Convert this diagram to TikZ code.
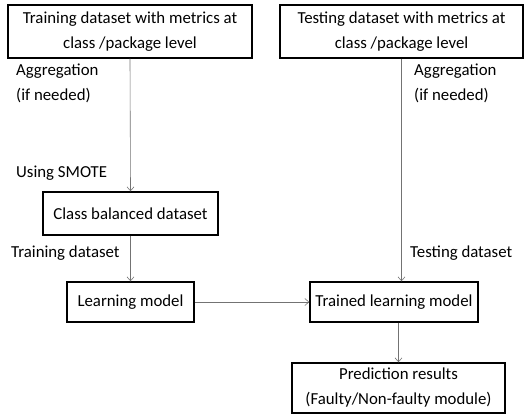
\documentclass[tikz,border=0pt]{standalone}
\usepackage{fontspec}
\setmainfont{Carlito}
\usepackage{tikz}
\usetikzlibrary{positioning, arrows.meta, calc}

\begin{document}
\begin{tikzpicture}[
    x=1pt, y=-1pt,
    font=\fontsize{16.8}{25}\selectfont,
    box/.style={draw=black, line width=1.4pt, inner sep=0pt, align=center},
    lbl/.style={anchor=north west, inner sep=0pt, align=left},
    flow/.style={draw=black!55, line width=0.6pt, -{Straight Barb[length=4pt, width=7pt]}}
]
    \useasboundingbox (0,0) rectangle (526,414);
    % Data sources at the top
    \node[box, minimum width=244pt, minimum height=53pt] (train) at (130,31.5)
        {Training dataset with metrics at\\class /package level};
    \node[box, minimum width=243pt, minimum height=53pt] (test) at (401.5,31.5)
        {Testing dataset with metrics at\\class /package level};
    % Left branch
    \node[box, minimum width=175pt, minimum height=43pt] (balanced) at (130.5,213.5)
        {Class balanced dataset};
    \node[box, minimum width=127pt, minimum height=40pt] (learn) at (130.5,302)
        {Learning model};
    % Right branch
    \node[box, minimum width=168pt, minimum height=40pt] (trained) at (394,302)
        {Trained learning model};
    \node[box, minimum width=213pt, minimum height=50pt] (predict) at (398.5,388)
        {Prediction results\\(Faulty/Non-faulty module)};

    % Side notes
    \node[lbl] (aggL) at (16,64) {Aggregation\\(if needed)};
    \node[lbl] (aggR) at (414,64) {Aggregation\\(if needed)};
    \node[lbl] (smote) at (16,166) {Using SMOTE};
    \node[lbl] (trainset) at (11,246) {Training dataset};
    \node[lbl] (testset) at (410,246) {Testing dataset};

    \path
        (train.south) edge[flow] (balanced.north)
        (balanced.south) edge[flow] (learn.north)
        (learn.east) edge[flow] (trained.west)
        (test.south) edge[flow] (test.south |- trained.north)
        (predict.north |- trained.south) edge[flow] (predict.north);
\end{tikzpicture}
\end{document}
